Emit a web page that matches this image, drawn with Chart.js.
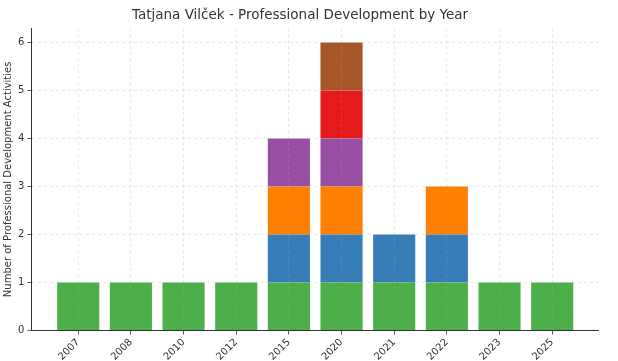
<!DOCTYPE html>
<html>
<head>
<meta charset="utf-8">
<script src="https://cdn.jsdelivr.net/npm/chart.js@4"></script>
<style>
  html, body { margin: 0; padding: 0; background: #fff; }
  #chart { display: block; }
</style>
</head>
<body>
<canvas id="chart" width="618" height="361"></canvas>
<script>
// --- Data ---
const years = ["2007", "2008", "2010", "2012", "2015", "2020", "2021", "2022", "2023", "2025"];
const greenValues = [1, 1, 1, 1, 1, 1, 1, 1, 1, 1];
const blueValues = [0, 0, 0, 0, 1, 1, 1, 1, 0, 0];
const orangeValues = [0, 0, 0, 0, 1, 1, 0, 1, 0, 0];
const purpleValues = [0, 0, 0, 0, 1, 1, 0, 0, 0, 0];
const redValues = [0, 0, 0, 0, 0, 1, 0, 0, 0, 0];
const brownValues = [0, 0, 0, 0, 0, 1, 0, 0, 0, 0];
const yTicks = [0, 1, 2, 3, 4, 5, 6];

const seriesList = [
  { values: greenValues, color: "#4daf4a" },
  { values: blueValues, color: "#377eb8" },
  { values: orangeValues, color: "#ff7f00" },
  { values: purpleValues, color: "#984ea3" },
  { values: redValues, color: "#e41a1c" },
  { values: brownValues, color: "#a65628" },
];

const FONT = "'DejaVu Sans', sans-serif";
// grid drawn over the bars, like the reference
const gridStyle = {
  color: "rgba(170, 170, 170, 0.35)",
  lineWidth: 0.8,
  drawTicks: true,
  tickLength: 4,
  tickColor: "#333",
  offset: false,
  z: 1,
};

const datasets = seriesList.map((s) => ({
  data: s.values.map((v, i) => ({ x: i, y: v })),
  backgroundColor: s.color,
  borderWidth: 0,
  barPercentage: 0.8,
  categoryPercentage: 1.0,
}));

new Chart(document.getElementById("chart").getContext("2d"), {
  type: "bar",
  data: { datasets },
  options: {
    responsive: false,
    animation: false,
    layout: { padding: { left: 2, right: 20, top: 2, bottom: -4 } },
    plugins: {
      legend: { display: false },
      tooltip: { enabled: false },
      title: {
        display: true,
        text: "Tatjana Vilček - Professional Development by Year",
        color: "#333",
        font: { family: FONT, size: 13.5, weight: "normal" },
        padding: { top: 5, bottom: 5 },
      },
    },
    scales: {
      x: {
        type: "linear",
        stacked: true,
        offset: false,
        min: -0.89,
        max: 9.87,
        afterBuildTicks: (scale) => {
          scale.ticks = years.map((_, i) => ({ value: i }));
        },
        ticks: {
          autoSkip: false,
          maxRotation: 45,
          minRotation: 45,
          color: "#333",
          font: { family: FONT, size: 10 },
          padding: 2,
          callback: (v) => years[v],
        },
        grid: { ...gridStyle },
        border: { display: true, color: "#333", width: 1, dash: [3, 3], z: 2 },
      },
      y: {
        stacked: true,
        min: 0,
        max: 6.3,
        afterBuildTicks: (scale) => {
          scale.ticks = yTicks.map((v) => ({ value: v }));
        },
        ticks: {
          color: "#333",
          font: { family: FONT, size: 10 },
          padding: 3,
        },
        grid: { ...gridStyle },
        border: { display: true, color: "#333", width: 1, dash: [3, 3], z: 2 },
        title: {
          display: true,
          text: "Number of Professional Development Activities",
          color: "#333",
          font: { family: FONT, size: 10 },
          padding: { top: 0, bottom: 1 },
        },
      },
    },
  },
});
</script>
</body>
</html>
